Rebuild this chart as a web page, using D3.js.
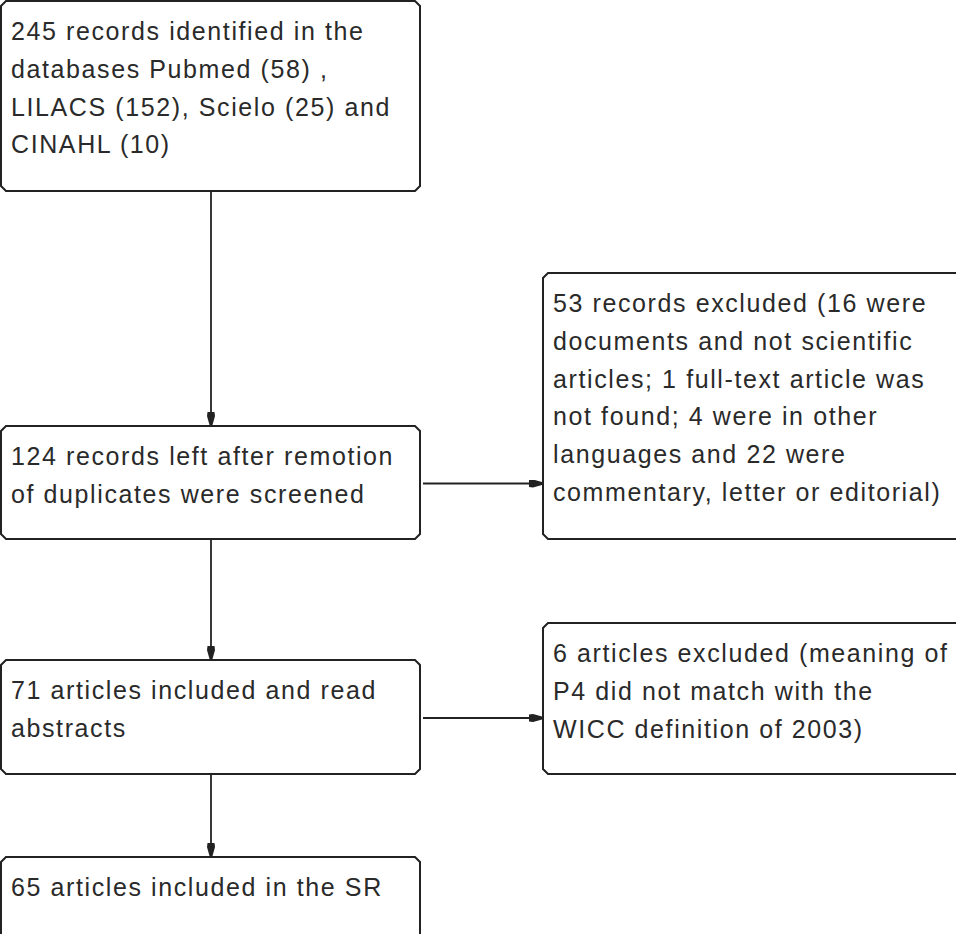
<!DOCTYPE html>
<html>
<head>
<meta charset="utf-8">
<script src="https://cdn.jsdelivr.net/npm/d3@7"></script>
<style>
  body { margin: 0; background: #fff; }
  svg { display: block; }
</style>
</head>
<body>
<script>
// box texts, one array per box
const boxIds = ['identified', 'screened', 'excluded1', 'read', 'excluded2', 'included'];
const boxLines = [
	['245 records identified in the', 'databases Pubmed (58) ,', 'LILACS (152), Scielo (25) and', 'CINAHL (10)'],
	['124 records left after remotion', 'of duplicates were screened'],
	['53 records excluded (16 were', 'documents and not scientific', 'articles; 1 full-text article was', 'not found; 4 were in other', 'languages and 22 were', 'commentary, letter or editorial)'],
	['71 articles included and read', 'abstracts'],
	['6 articles excluded (meaning of', 'P4 did not match with the', 'WICC definition of 2003)'],
	['65 articles included in the SR']
];
const links = [
	['identified', 'screened', 'down'],
	['screened', 'excluded1', 'right'],
	['screened', 'read', 'down'],
	['read', 'excluded2', 'right'],
	['read', 'included', 'down']
];

// layout (pixels)
const width = 956, height = 934;
const layout = {
	identified: {x0: 1, x1: 420, y0: 1, y1: 191},
	screened:   {x0: 1, x1: 420, y0: 426, y1: 539},
	excluded1:  {x0: 543, x1: 966, y0: 273, y1: 539},
	read:       {x0: 1, x1: 420, y0: 660, y1: 774},
	excluded2:  {x0: 543, x1: 966, y0: 623, y1: 774},
	included:   {x0: 1, x1: 420, y0: 857, y1: 944}
};
const lineGap = 37.8;
const ink = '#222';

const svg = d3.select('body').append('svg')
	.attr('width', width)
	.attr('height', height);

// blunt, tapered arrowhead
svg.append('defs').append('marker')
	.attr('id', 'head')
	.attr('viewBox', '0 0 13 8')
	.attr('refX', 13).attr('refY', 4)
	.attr('markerWidth', 13).attr('markerHeight', 8)
	.attr('markerUnits', 'userSpaceOnUse')
	.attr('orient', 'auto')
	.append('path')
	.attr('d', 'M0,0.5 L4,0 L13,2.5 L13,5.5 L4,8 L0,7.5 Z')
	.attr('fill', ink);

const boxes = boxIds.map((id, i) => Object.assign({id: id, lines: boxLines[i]}, layout[id]));
const byId = new Map(boxes.map(d => [d.id, d]));

// chamfered rectangle path
function boxPath(d) {
	const c = 5;
	return d3.line()([
		[d.x0 + c, d.y0], [d.x1 - c, d.y0], [d.x1, d.y0 + c],
		[d.x1, d.y1 - c], [d.x1 - c, d.y1], [d.x0 + c, d.y1],
		[d.x0, d.y1 - c], [d.x0, d.y0 + c], [d.x0 + c, d.y0]
	]) + 'Z';
}

// connectors
svg.append('g').selectAll('path')
	.data(links)
	.join('path')
	.attr('d', l => {
		const s = byId.get(l[0]), t = byId.get(l[1]);
		if (l[2] === 'down') {
			const x = 211;
			return d3.line()([[x, s.y1], [x, t.y0 - 1]]);
		}
		const y = (s.y0 + s.y1) / 2 + 1;
		return d3.line()([[s.x1 + 3, y], [t.x0 - 1, y]]);
	})
	.attr('stroke', ink)
	.attr('stroke-width', 1.8)
	.attr('fill', 'none')
	.attr('marker-end', 'url(#head)');

const g = svg.append('g').selectAll('g')
	.data(boxes)
	.join('g');

g.append('path')
	.attr('d', boxPath)
	.attr('fill', '#fff')
	.attr('stroke', ink)
	.attr('stroke-width', 2);

g.append('text')
	.attr('font-family', '"Liberation Sans", Arial, sans-serif')
	.attr('font-size', 25)
	.attr('letter-spacing', 1.6)
	.attr('fill', '#2a2a2a')
	.selectAll('tspan')
	.data(d => d.lines.map((t, i) => ({t: t, i: i, d: d})))
	.join('tspan')
	.attr('x', e => e.d.x0 + 10)
	.attr('y', e => e.d.y0 + 39 + e.i * lineGap)
	.text(e => e.t);
</script>
</body>
</html>
